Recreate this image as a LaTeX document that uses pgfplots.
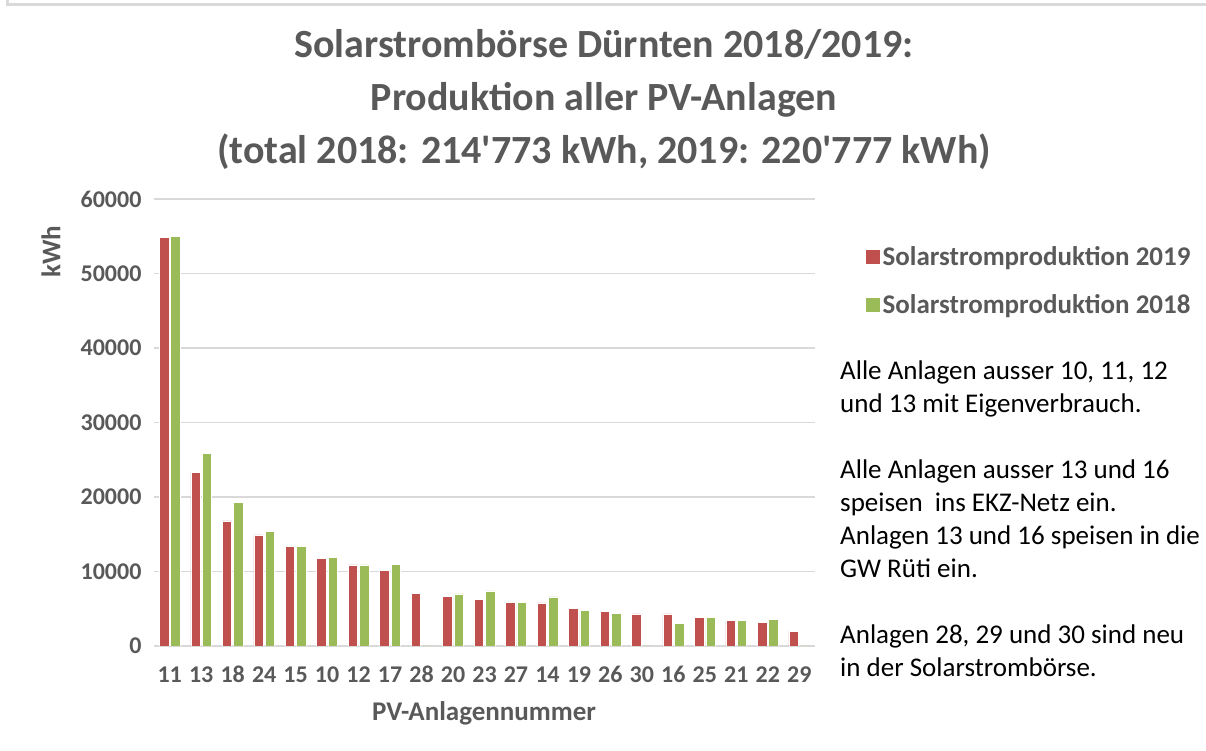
\documentclass[border=0pt]{standalone}
\usepackage{pgfplots}
\pgfplotsset{compat=1.18}
\usepackage{fontspec}
\setmainfont{Carlito}
\newfontfamily\titlefont{Carlito}
\definecolor{cred}{HTML}{C0504D}
\definecolor{cgreen}{HTML}{9BBB59}
\definecolor{tgray}{HTML}{595959}
\definecolor{lgray}{HTML}{D9D9D9}
\begin{document}
\begin{tikzpicture}[x=1bp,y=1bp]
\path[use as bounding box] (0,0) rectangle (1206,751);
\draw[lgray,line width=3bp] (7,751) -- (7,746) -- (1206,746);
\node[font=\titlefont\fontsize{40bp}{53bp}\bfseries\selectfont,text=tgray,align=center,anchor=center] at (604,751-100) {Solarstrombörse Dürnten 2018/2019:\\Produktion aller PV-Anlagen\\(total 2018: 214'773 kWh, 2019: 220'777 kWh)};
\begin{axis}[
  at={(154bp,105bp)}, anchor=south west,
  scale only axis, width=661bp, height=447bp,
  xmin=-0.5, xmax=20.5, ymin=0, ymax=60000,
  scaled y ticks=false,
  axis line style={draw=none},
  major tick length=0pt,
  ymajorgrids, grid style={lgray,line width=1.5bp},
  ytick={0,10000,20000,30000,40000,50000,60000},
  yticklabels={0,10000,20000,30000,40000,50000,60000},
  xtick={0,...,20},
  xticklabels={11,13,18,24,15,10,12,17,28,20,23,27,14,19,26,30,16,25,21,22,29},
  tick label style={font=\fontsize{24bp}{28bp}\bfseries\selectfont,text=tgray},
  yticklabel style={anchor=east,xshift=-9bp},
  xticklabel style={anchor=base,yshift=-37bp},
  ybar, bar width=0.3, 
  legend style={at={(1.071,0.903)},anchor=north west,draw=none,fill=none,
    font=\fontsize{27bp}{32bp}\bfseries\selectfont,text=tgray,row sep=24bp,
    legend cell align=left},
  legend image code/.code={\fill[#1] (0bp,-7.5bp) rectangle (15bp,7.5bp);},
]
\addplot[fill=cred,draw=white,line width=0.5bp,bar shift=-0.18] coordinates {
(0,54800) (1,23300) (2,16800) (3,14900) (4,13400) (5,11800) (6,10900) (7,10200)
(8,7100) (9,6700) (10,6300) (11,5900) (12,5800) (13,5000) (14,4600) (15,4300)
(16,4300) (17,3800) (18,3400) (19,3200) (20,2000)};
\addlegendentry{Solarstromproduktion 2019}
\addplot[fill=cgreen,draw=white,line width=0.5bp,bar shift=0.18] coordinates {
(0,55000) (1,25900) (2,19300) (3,15400) (4,13400) (5,11900) (6,10900) (7,11000)
(8,0) (9,7000) (10,7400) (11,5900) (12,6600) (13,4800) (14,4400) (15,0)
(16,3000) (17,3800) (18,3400) (19,3600) (20,0)};
\addlegendentry{Solarstromproduktion 2018}
\end{axis}
\node[font=\fontsize{27bp}{32bp}\bfseries\selectfont,text=tgray,rotate=90] at (51,751-252) {kWh};
\node[font=\fontsize{27bp}{32bp}\bfseries\selectfont,text=tgray] at (484,751-713) {PV-Anlagennummer};
\node[font=\fontsize{27bp}{33bp}\selectfont,align=left,anchor=base west,inner sep=0pt] at (840,751-677) {Alle Anlagen ausser 10, 11, 12\\und 13 mit Eigenverbrauch.\\[33bp]Alle Anlagen ausser 13 und 16\\speisen~ ins EKZ-Netz ein.\\Anlagen 13 und 16 speisen in die\\GW Rüti ein.\\[33bp]Anlagen 28, 29 und 30 sind neu\\in der Solarstrombörse.};
\end{tikzpicture}
\end{document}
